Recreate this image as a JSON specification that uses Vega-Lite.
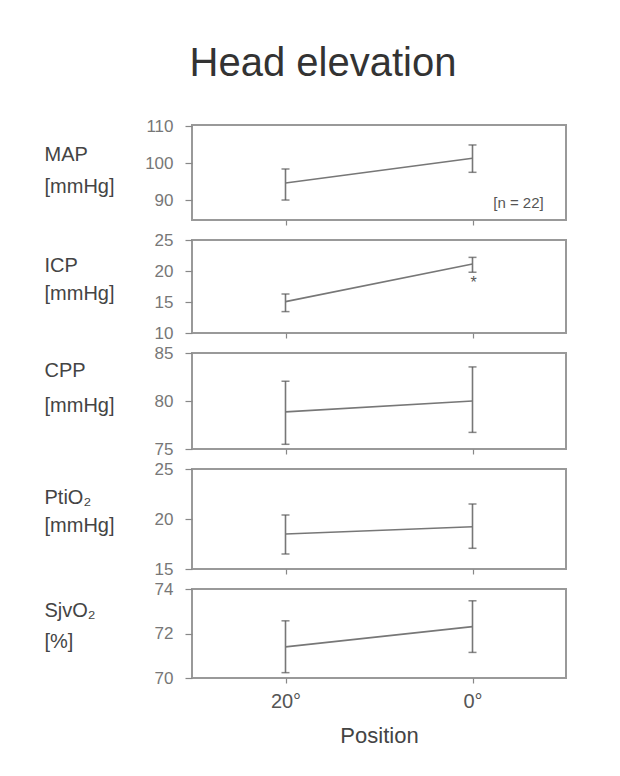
{
  "$schema": "https://vega.github.io/schema/vega-lite/v6.json",
  "background": "white",
  "padding": {"left": 43, "top": 44, "right": 20, "bottom": 10},
  "title": {"text": "Head elevation", "fontSize": 40, "font": "Liberation Sans", "fontWeight": "normal", "color": "#333", "anchor": "middle", "dx": 18, "offset": 32},
  "datasets": {
    "stats": [
      {"var": "MAP", "pos": "20°", "mean": 94.6, "lo": 90.0, "hi": 98.4},
      {"var": "MAP", "pos": "0°", "mean": 101.3, "lo": 97.5, "hi": 104.9},
      {"var": "ICP", "pos": "20°", "mean": 15.06, "lo": 13.45, "hi": 16.29},
      {"var": "ICP", "pos": "0°", "mean": 21.13, "lo": 19.8, "hi": 22.2},
      {"var": "CPP", "pos": "20°", "mean": 78.87, "lo": 75.49, "hi": 82.06},
      {"var": "CPP", "pos": "0°", "mean": 80.0, "lo": 76.73, "hi": 83.55},
      {"var": "PtiO2", "pos": "20°", "mean": 18.5, "lo": 16.5, "hi": 20.4},
      {"var": "PtiO2", "pos": "0°", "mean": 19.23, "lo": 17.07, "hi": 21.5},
      {"var": "SjvO2", "pos": "20°", "mean": 71.4, "lo": 70.24, "hi": 72.57},
      {"var": "SjvO2", "pos": "0°", "mean": 72.31, "lo": 71.15, "hi": 73.47}
    ],
    "notes": [
      {"var": "MAP", "pos": "0°", "y": 89.2, "text": "[n = 22]"},
      {"var": "ICP", "pos": "0°", "y": 18.1, "text": "*"}
    ]
  },
  "spacing": 20,
  "bounds": "flush",
  "vconcat": [
    {
      "width": 374, "height": 95,
      "encoding": {"x": {"field": "pos", "type": "ordinal", "scale": {"type": "point", "domain": ["20°", "0°"], "padding": 0.5}, "axis": {"labels": false, "title": null, "tickSize": 5}}},
      "layer": [
        {"data": {"name": "notes"}, "transform": [{"filter": "datum.var === 'MAP'"}],
         "mark": {"type": "text", "fontSize": 15, "color": "#555", "dx": 46, "baseline": "middle"},
         "encoding": {"y": {"field": "y", "type": "quantitative", "scale": {"domain": [84.6, 110.3], "nice": false, "zero": false},
           "axis": {"values": [90, 100, 110], "title": ["MAP", "[mmHg]"], "titleX": -148, "titleY": 19, "titleLineHeight": 32}}, "text": {"field": "text"}}},
        {"data": {"name": "stats"}, "transform": [{"filter": "datum.var === 'MAP'"}],
         "mark": {"type": "rule", "color": "#777", "strokeWidth": 1.6},
         "encoding": {"y": {"field": "lo", "type": "quantitative"}, "y2": {"field": "hi"}}},
        {"data": {"name": "stats"}, "transform": [{"filter": "datum.var === 'MAP'"}],
         "mark": {"type": "tick", "color": "#555", "size": 8, "thickness": 1.5}, "encoding": {"y": {"field": "lo", "type": "quantitative"}}},
        {"data": {"name": "stats"}, "transform": [{"filter": "datum.var === 'MAP'"}],
         "mark": {"type": "tick", "color": "#555", "size": 8, "thickness": 1.5}, "encoding": {"y": {"field": "hi", "type": "quantitative"}}},
        {"data": {"name": "stats"}, "transform": [{"filter": "datum.var === 'MAP'"}],
         "mark": {"type": "line", "color": "#777", "strokeWidth": 1.6}, "encoding": {"y": {"field": "mean", "type": "quantitative"}}}
      ]
    },
    {
      "width": 374, "height": 93,
      "encoding": {"x": {"field": "pos", "type": "ordinal", "scale": {"type": "point", "domain": ["20°", "0°"], "padding": 0.5}, "axis": {"labels": false, "title": null, "tickSize": 5}}},
      "layer": [
        {"data": {"name": "notes"}, "transform": [{"filter": "datum.var === 'ICP'"}],
         "mark": {"type": "text", "fontSize": 16, "color": "#555", "dx": 1, "baseline": "middle"},
         "encoding": {"y": {"field": "y", "type": "quantitative", "scale": {"domain": [10, 25], "nice": false, "zero": false},
           "axis": {"tickCount": 3, "title": ["ICP", "[mmHg]"], "titleX": -148, "titleY": 15, "titleLineHeight": 28}}, "text": {"field": "text"}}},
        {"data": {"name": "stats"}, "transform": [{"filter": "datum.var === 'ICP'"}],
         "mark": {"type": "rule", "color": "#777", "strokeWidth": 1.6},
         "encoding": {"y": {"field": "lo", "type": "quantitative"}, "y2": {"field": "hi"}}},
        {"data": {"name": "stats"}, "transform": [{"filter": "datum.var === 'ICP'"}],
         "mark": {"type": "tick", "color": "#555", "size": 8, "thickness": 1.5}, "encoding": {"y": {"field": "lo", "type": "quantitative"}}},
        {"data": {"name": "stats"}, "transform": [{"filter": "datum.var === 'ICP'"}],
         "mark": {"type": "tick", "color": "#555", "size": 8, "thickness": 1.5}, "encoding": {"y": {"field": "hi", "type": "quantitative"}}},
        {"data": {"name": "stats"}, "transform": [{"filter": "datum.var === 'ICP'"}],
         "mark": {"type": "line", "color": "#777", "strokeWidth": 1.6}, "encoding": {"y": {"field": "mean", "type": "quantitative"}}}
      ]
    },
    {
      "width": 374, "height": 96,
      "data": {"name": "stats"},
      "transform": [{"filter": "datum.var === 'CPP'"}],
      "encoding": {"x": {"field": "pos", "type": "ordinal", "scale": {"type": "point", "domain": ["20°", "0°"], "padding": 0.5}, "axis": {"labels": false, "title": null, "tickSize": 5}}},
      "layer": [
        {"mark": {"type": "rule", "color": "#777", "strokeWidth": 1.6},
         "encoding": {"y": {"field": "lo", "type": "quantitative", "scale": {"domain": [75, 85], "nice": false, "zero": false},
           "axis": {"values": [75, 80, 85], "title": ["CPP", "[mmHg]"], "titleX": -148, "titleY": 7, "titleLineHeight": 35}}, "y2": {"field": "hi"}}},
        {"mark": {"type": "tick", "color": "#555", "size": 8, "thickness": 1.5}, "encoding": {"y": {"field": "lo", "type": "quantitative"}}},
        {"mark": {"type": "tick", "color": "#555", "size": 8, "thickness": 1.5}, "encoding": {"y": {"field": "hi", "type": "quantitative"}}},
        {"mark": {"type": "line", "color": "#777", "strokeWidth": 1.6}, "encoding": {"y": {"field": "mean", "type": "quantitative"}}}
      ]
    },
    {
      "width": 374, "height": 100,
      "data": {"name": "stats"},
      "transform": [{"filter": "datum.var === 'PtiO2'"}],
      "encoding": {"x": {"field": "pos", "type": "ordinal", "scale": {"type": "point", "domain": ["20°", "0°"], "padding": 0.5}, "axis": {"labels": false, "title": null, "tickSize": 5}}},
      "layer": [
        {"mark": {"type": "rule", "color": "#777", "strokeWidth": 1.6},
         "encoding": {"y": {"field": "lo", "type": "quantitative", "scale": {"domain": [15, 25], "nice": false, "zero": false},
           "axis": {"values": [15, 20, 25], "title": ["PtiO₂", "[mmHg]"], "titleX": -148, "titleY": 18, "titleLineHeight": 28}}, "y2": {"field": "hi"}}},
        {"mark": {"type": "tick", "color": "#555", "size": 8, "thickness": 1.5}, "encoding": {"y": {"field": "lo", "type": "quantitative"}}},
        {"mark": {"type": "tick", "color": "#555", "size": 8, "thickness": 1.5}, "encoding": {"y": {"field": "hi", "type": "quantitative"}}},
        {"mark": {"type": "line", "color": "#777", "strokeWidth": 1.6}, "encoding": {"y": {"field": "mean", "type": "quantitative"}}}
      ]
    },
    {
      "width": 374, "height": 89,
      "data": {"name": "stats"},
      "transform": [{"filter": "datum.var === 'SjvO2'"}],
      "encoding": {"x": {"field": "pos", "type": "ordinal", "scale": {"type": "point", "domain": ["20°", "0°"], "padding": 0.5},
        "axis": {"labels": true, "title": "Position", "tickSize": 5, "labelFontSize": 20, "labelColor": "#555", "labelPadding": 8, "labelAngle": 0, "titleFontSize": 22, "titlePadding": 14}}},
      "layer": [
        {"mark": {"type": "rule", "color": "#777", "strokeWidth": 1.6},
         "encoding": {"y": {"field": "lo", "type": "quantitative", "scale": {"domain": [70, 74], "nice": false, "zero": false},
           "axis": {"values": [70, 72, 74], "title": ["SjvO₂", "[%]"], "titleX": -148, "titleY": 11, "titleLineHeight": 31}}, "y2": {"field": "hi"}}},
        {"mark": {"type": "tick", "color": "#555", "size": 8, "thickness": 1.5}, "encoding": {"y": {"field": "lo", "type": "quantitative"}}},
        {"mark": {"type": "tick", "color": "#555", "size": 8, "thickness": 1.5}, "encoding": {"y": {"field": "hi", "type": "quantitative"}}},
        {"mark": {"type": "line", "color": "#777", "strokeWidth": 1.6}, "encoding": {"y": {"field": "mean", "type": "quantitative"}}}
      ]
    }
  ],
  "config": {
    "font": "Liberation Sans",
    "view": {"stroke": "#999", "strokeWidth": 2},
    "axis": {"domain": false, "grid": false, "tickColor": "#888", "tickWidth": 1.2, "labelColor": "#777", "labelFontSize": 17, "labelFont": "Liberation Sans", "labelFlush": false, "labelOverlap": false, "titleFont": "Liberation Sans", "titleFontWeight": "normal", "titleColor": "#444"},
    "axisY": {"tickSize": 7, "labelPadding": 12, "titleAngle": 0, "titleAlign": "left", "titleBaseline": "top", "titleFontSize": 20}
  }
}
